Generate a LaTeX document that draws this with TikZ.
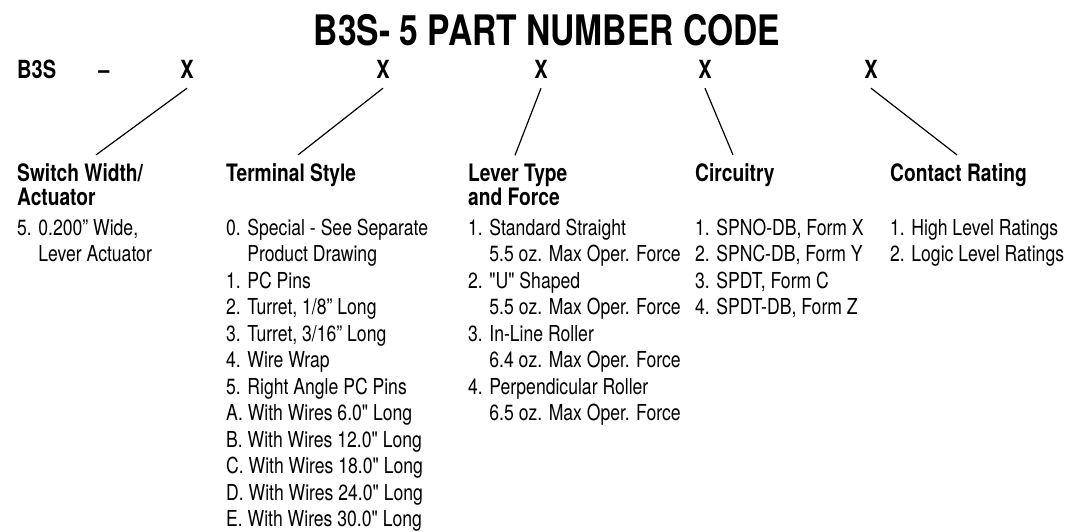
\documentclass[tikz,border=0pt]{standalone}
\usepackage{fontspec}
\newfontfamily\condfont{TeX Gyre Heros}[FakeStretch=0.8]

\begin{document}
\begin{tikzpicture}[
        x=1pt, y=-1pt,
        every node/.style={inner sep=0pt},
        title/.style={font=\condfont\bfseries\fontsize{42}{42}\selectfont, anchor=base},
        code/.style={font=\condfont\bfseries\fontsize{25}{25}\selectfont, anchor=base},
        head/.style={font=\condfont\bfseries\fontsize{24}{24}\selectfont, anchor=base west},
        opts/.style={font=\condfont\fontsize{22}{26.5}\selectfont, anchor=base west},
        lead/.style={line width=1.2pt},
    ]
    \useasboundingbox (0,0) rectangle (1078,531);
    \node[title] (t) at (547,45) {B3S- 5 PART NUMBER CODE};
    \node[code, anchor=base west] (b) at (17,78) {B3S};
    \node[code] (d) at (104,78) {–};
    \node[code] (x1) at (187,78) {X};
    \node[code] (x2) at (383,78) {X};
    \node[code] (x3) at (541,78) {X};
    \node[code] (x4) at (705,78) {X};
    \node[code] (x5) at (871,78) {X};
    \node[head] (h1) at (17,181) {\begin{tabular}[t]{@{}l@{}}Switch Width/\\Actuator\end{tabular}};
    \node[head] (h2) at (226,181) {Terminal Style};
    \node[head] (h3) at (468,181) {\begin{tabular}[t]{@{}l@{}}Lever Type\\and Force\end{tabular}};
    \node[head] (h4) at (695,181) {Circuitry};
    \node[head] (h5) at (890,181) {Contact Rating};
    \node[opts] (o1) at (17,235) {\begin{tabular}[t]{@{}l@{}}
        5. 0.200” Wide,\\
        \phantom{5. }Lever Actuator
      \end{tabular}};
    \node[opts] (o2) at (226,235) {\begin{tabular}[t]{@{}l@{}}
        0. Special - See Separate\\
        \phantom{0. }Product Drawing\\
        1. PC Pins\\
        2. Turret, 1/8” Long\\
        3. Turret, 3/16” Long\\
        4. Wire Wrap\\
        5. Right Angle PC Pins\\
        A. With Wires 6.0" Long\\
        B. With Wires 12.0" Long\\
        C. With Wires 18.0" Long\\
        D. With Wires 24.0" Long\\
        E. With Wires 30.0" Long
      \end{tabular}};
    \node[opts] (o3) at (468,235) {\begin{tabular}[t]{@{}l@{}}
        1. Standard Straight\\
        \phantom{1. }5.5 oz. Max Oper. Force\\
        2. "U" Shaped\\
        \phantom{2. }5.5 oz. Max Oper. Force\\
        3. In-Line Roller\\
        \phantom{3. }6.4 oz. Max Oper. Force\\
        4. Perpendicular Roller\\
        \phantom{4. }6.5 oz. Max Oper. Force
      \end{tabular}};
    \node[opts] (o4) at (695,235) {\begin{tabular}[t]{@{}l@{}}
        1. SPNO-DB, Form X\\
        2. SPNC-DB, Form Y\\
        3. SPDT, Form C\\
        4. SPDT-DB, Form Z
      \end{tabular}};
    \node[opts] (o5) at (890,235) {\begin{tabular}[t]{@{}l@{}}
        1. High Level Ratings\\
        2. Logic Level Ratings
      \end{tabular}};
    \draw[lead] ([yshift=-10pt]x1.south) -- ([xshift=79pt,yshift=8pt]h1.north west);
    \draw[lead] ([yshift=-10pt]x2.south) -- ([xshift=72pt,yshift=8pt]h2.north west);
    \draw[lead] ([yshift=-10pt]x3.south) -- ([xshift=47pt,yshift=8pt]h3.north west);
    \draw[lead] ([yshift=-10pt]x4.south) -- ([xshift=38pt,yshift=8pt]h4.north west);
    \draw[lead] ([yshift=-10pt]x5.south) -- ([xshift=67pt,yshift=8pt]h5.north west);
\end{tikzpicture}
\end{document}
